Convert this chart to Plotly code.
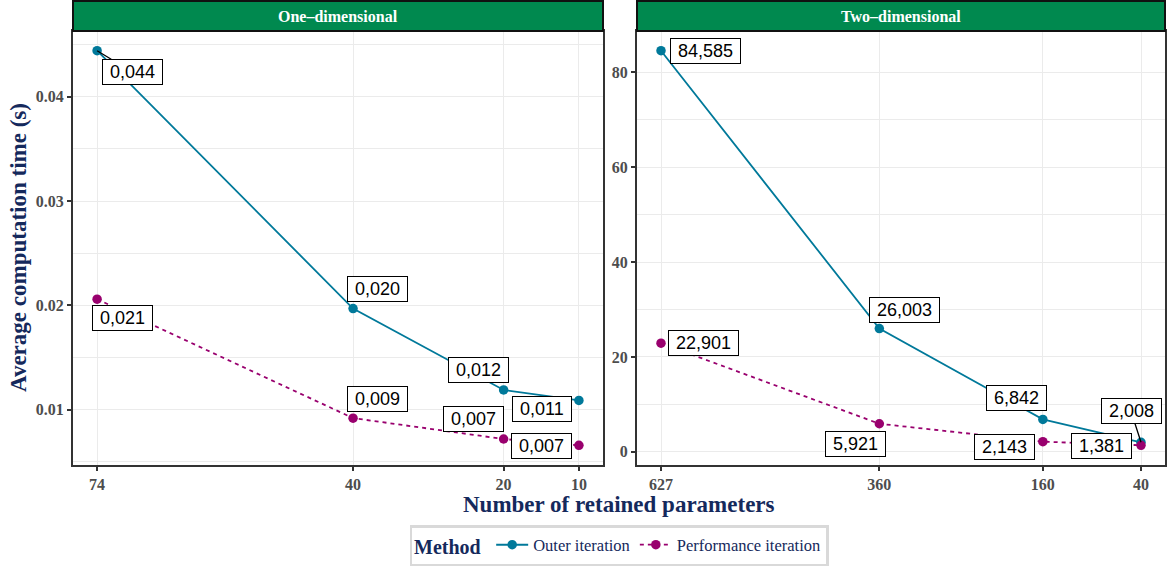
import plotly.graph_objects as go

# ---------------- data ----------------
params_1d = [74, 40, 20, 10]
params_2d = [627, 360, 160, 40]
outer_1d = [0.0444, 0.0197, 0.0119, 0.0109]
perf_1d = [0.0206, 0.0092, 0.0072, 0.0066]
outer_2d = [84.585, 26.003, 6.842, 2.008]
perf_2d = [22.901, 5.921, 2.143, 1.381]
methods = ["Outer iteration", "Performance iteration"]
panels = ["One\u2013dimensional", "Two\u2013dimensional"]
x_ticks_1d = [74, 40, 20, 10]
x_ticks_2d = [627, 360, 160, 40]

# label placement (pixel offsets of label centre from point, dy downwards; flag = draw segment)
off_outer_1d = [(35, 21, True), (24, -20, False), (-25, -20, False), (-37, 9, False)]
off_perf_1d = [(25, 19, False), (24, -19, False), (-30, -20, False), (-37, 1, False)]
off_outer_2d = [(44, 0, False), (25, -19, False), (-26, -21, False), (-10, -31, True)]
off_perf_2d = [(42, 0, False), (-24, 20, False), (-38, 5, False), (-40, 1, False)]

# ---------------- style ----------------
C_OUTER = "#00799A"
C_PERF = "#99006E"
NAVY = "#15295C"
SERIF = "Liberation Serif"
SANS = "Liberation Sans"
GRID = "#EBEBEB"
STRIP = "#00894F"

W, H = 1167, 575
ML, MR, MT, MB = 73, 2, 31, 110
PW = W - ML - MR
PH = H - MT - MB


def expand(vals, frac=0.05):
    lo, hi = min(vals), max(vals)
    d = (hi - lo) * frac
    return lo - d, hi + d


fig = go.Figure()

panel_data = [
    (params_1d, outer_1d, perf_1d, "x", "y"),
    (params_2d, outer_2d, perf_2d, "x2", "y2"),
]

for i, (px, o, p, xa, ya) in enumerate(panel_data):
    fig.add_trace(go.Scatter(
        x=px, y=o, xaxis=xa, yaxis=ya, mode="lines+markers", name=methods[0],
        line=dict(color=C_OUTER, width=1.8), marker=dict(size=9.5, color=C_OUTER),
        legendgroup="o", showlegend=(i == 0)))
    fig.add_trace(go.Scatter(
        x=px, y=p, xaxis=xa, yaxis=ya, mode="lines+markers", name=methods[1],
        line=dict(color=C_PERF, width=1.8, dash="4px,4px"), marker=dict(size=9.5, color=C_PERF),
        legendgroup="p", showlegend=(i == 0)))

annotations = []


def fmt(v):
    return "&nbsp;" + f"{v:.3f}".replace(".", ",") + "&nbsp;"


def add_labels(xs, ys, offs, xa, ya):
    for xv, yv, (dx, dy, seg) in zip(xs, ys, offs):
        base = dict(x=xv, y=yv, xref=xa, yref=ya, text=fmt(yv),
                    font=dict(family=SANS, size=18, color="black"),
                    bgcolor="white", bordercolor="black", borderwidth=1, borderpad=2)
        if seg:
            base.update(showarrow=True, ax=dx, ay=dy, axref="pixel", ayref="pixel",
                        arrowhead=0, arrowwidth=1.3, arrowcolor="black", standoff=0)
        else:
            base.update(showarrow=False, xshift=dx, yshift=-dy,
                        xanchor="center", yanchor="middle")
        annotations.append(base)


add_labels(params_1d, outer_1d, off_outer_1d, "x", "y")
add_labels(params_1d, perf_1d, off_perf_1d, "x", "y")
add_labels(params_2d, outer_2d, off_outer_2d, "x2", "y2")
add_labels(params_2d, perf_2d, off_perf_2d, "x2", "y2")

# strips
shapes = []
strip_h = 30 / PH
for name, xa, ya in [(panels[0], "x", "y"), (panels[1], "x2", "y2")]:
    shapes.append(dict(type="rect", xref=f"{xa} domain", yref=f"{ya} domain",
                       x0=0, x1=1, y0=1, y1=1 + strip_h, fillcolor=STRIP,
                       line=dict(color="#111111", width=2), layer="above"))
    annotations.append(dict(xref=f"{xa} domain", yref=f"{ya} domain", x=0.5,
                            y=1 + strip_h / 2, text=f"<b>{name}</b>", showarrow=False,
                            font=dict(family=SERIF, size=16, color="white"),
                            xanchor="center", yanchor="middle"))

# axis titles
annotations.append(dict(xref="paper", yref="paper", x=0.5, y=(465 - 504) / PH,
                        text="<b>Number of retained parameters</b>", showarrow=False,
                        font=dict(family=SERIF, size=23, color=NAVY),
                        xanchor="center", yanchor="middle"))
annotations.append(dict(xref="paper", yref="paper", x=(18 - ML) / PW, y=0.5,
                        text="<b>Average computation time (s)</b>", showarrow=False,
                        textangle=-90, font=dict(family=SERIF, size=23, color=NAVY),
                        xanchor="center", yanchor="middle"))

tickfont = dict(family=SERIF, size=16, color="#4D4D4D", weight="bold")
common_x = dict(showline=True, mirror=True, linecolor="#333333", linewidth=2,
                ticks="outside", ticklen=4, tickwidth=1.5, tickcolor="#333333",
                showgrid=True, gridcolor=GRID, gridwidth=1, zeroline=False,
                tickfont=tickfont, tickmode="array", automargin=False)
common_y = dict(showline=True, mirror=True, linecolor="#333333", linewidth=2,
                ticks="outside", ticklen=4, tickwidth=1.5, tickcolor="#333333",
                showgrid=True, gridcolor=GRID, gridwidth=1, zeroline=False,
                tickfont=tickfont, tickmode="linear", tick0=0, automargin=False)

lo1, hi1 = expand(params_1d)
lo2, hi2 = expand(params_2d)
ylo1, yhi1 = expand(outer_1d + perf_1d)
ylo2, yhi2 = expand(outer_2d + perf_2d)

d1 = (603 - ML) / PW
d2 = (637 - ML) / PW

fig.update_layout(
    width=W, height=H,
    margin=dict(l=ML, r=MR, t=MT, b=MB, autoexpand=False),
    paper_bgcolor="white", plot_bgcolor="white",
    xaxis=dict(common_x, domain=[0, d1], range=[hi1, lo1], tickvals=x_ticks_1d,
               ticktext=[str(v) for v in x_ticks_1d], anchor="y"),
    yaxis=dict(common_y, domain=[0, 1], range=[ylo1, yhi1], dtick=0.01, tickformat=".2f",
               anchor="x",
               minor=dict(tick0=0, dtick=0.005, showgrid=True, gridcolor=GRID, gridwidth=0.6)),
    xaxis2=dict(common_x, domain=[d2, 1], range=[hi2, lo2], tickvals=x_ticks_2d,
                ticktext=[str(v) for v in x_ticks_2d], anchor="y2"),
    yaxis2=dict(common_y, domain=[0, 1], range=[ylo2, yhi2], dtick=20, anchor="x2",
                minor=dict(tick0=0, dtick=10, showgrid=True, gridcolor=GRID, gridwidth=0.6)),
    legend=dict(orientation="h", x=0.5, xanchor="center", y=(465 - 525) / PH, yanchor="top",
                bordercolor="#D9D9D9", borderwidth=2.5, bgcolor="white",
                font=dict(family=SERIF, size=16.5, color=NAVY),
                title=dict(text="<b>Method</b> ", font=dict(family=SERIF, size=20, color=NAVY)),
                itemwidth=32),
    annotations=annotations,
    shapes=shapes,
)

fig.write_html("out.html", config={"displayModeBar": False},
               post_script="document.body.style.margin='0';document.body.style.padding='0';")
